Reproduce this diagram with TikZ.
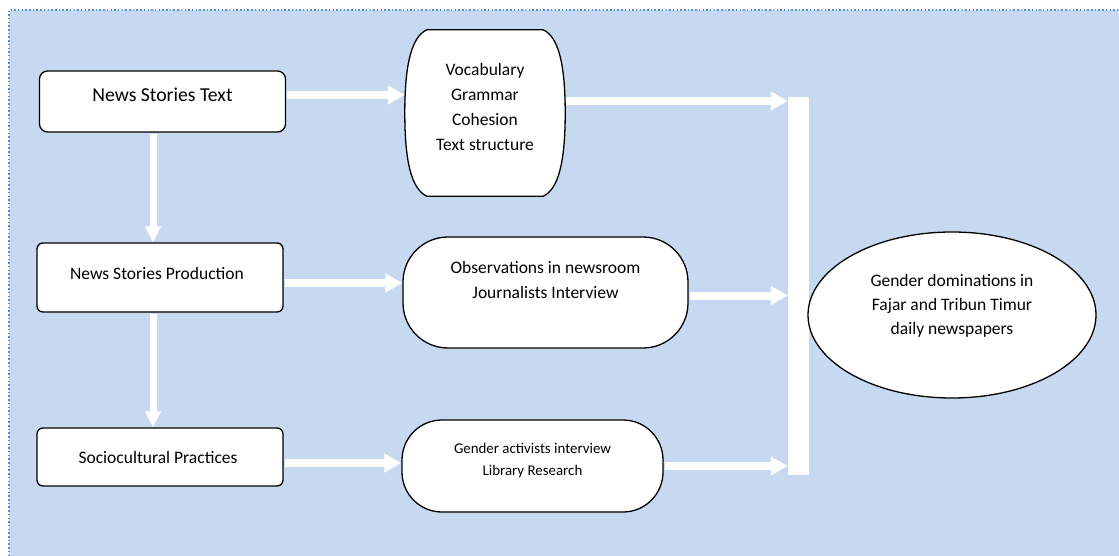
\documentclass[tikz,border=0pt]{standalone}
\usepackage{fontspec}
\setmainfont{Carlito}
\usetikzlibrary{arrows.meta,shapes.geometric}
\definecolor{bgblue}{RGB}{198,217,240}
\definecolor{dotblue}{RGB}{85,142,213}

\begin{document}
\begin{tikzpicture}[x=1pt, y=-1pt]
    \tikzstyle{box}=[draw=black, fill=white, line width=1.3pt, rounded corners=6pt, minimum width=246pt, inner sep=0pt]
    \tikzstyle{blob}=[draw=black, fill=white, line width=1.3pt, inner sep=0pt]
    \tikzstyle{words}=[align=center, inner sep=0pt, text=black, font=\fontsize{17.5}{25}\selectfont]
    \tikzstyle{flow}=[white, line width=8pt, shorten <=1pt, -{Triangle[length=17pt, width=18pt]}]
    \tikzstyle{down}=[white, line width=7pt, shorten <=1pt, -{Triangle[length=16pt, width=15pt]}]

    \useasboundingbox (0,0) rectangle (1119,556);
    \fill[bgblue] (9,10) rectangle (1119,556);
    \draw[dotblue, line width=1.5pt, dash pattern=on 1.5pt off 2.2pt] (9,556) -- (9,10) -- (1119,10);

    % left column
    \node[box, minimum height=61pt, rounded corners=8pt] (text) at (162.5,101.5) {};
    \node[box, minimum height=69pt] (prod) at (160,277.5) {};
    \node[box, minimum height=58pt] (socio) at (160,457) {};

    % middle column
    \node[minimum width=160pt, minimum height=166pt, inner sep=0pt] (ling) at (485,113) {};
    \draw[blob] ([xshift=22pt]ling.north west) -- ([xshift=-22pt]ling.north east)
        .. controls +(15,7) and +(0,-50) .. (ling.east)
        .. controls +(0,50) and +(15,-7) .. ([xshift=-22pt]ling.south east)
        -- ([xshift=22pt]ling.south west)
        .. controls +(-15,-7) and +(0,50) .. (ling.west)
        .. controls +(0,-50) and +(-15,7) .. ([xshift=22pt]ling.north west) -- cycle;
    \node[blob, rounded corners=45pt, minimum width=285pt, minimum height=111pt] (obs) at (545.5,292.5) {};
    \node[blob, rounded corners=40pt, minimum width=261pt, minimum height=92pt] (act) at (532.5,466) {};

    % right side
    \node[fill=white, minimum width=21pt, minimum height=378pt, inner sep=0pt] (bar) at (798.5,286) {};
    \node[blob, ellipse, minimum width=288pt, minimum height=166pt] (gender) at (952,315) {};

    % texts
    \node[words, font=\fontsize{19.7}{24}\selectfont] (t1) at (162.5,94.5) {News Stories Text};
    \node[words] (t2) at (157,273) {News Stories Production};
    \node[words] (t3) at (158,457) {Sociocultural Practices};
    \node[words] (t4) at (485,107) {Vocabulary\\Grammar\\Cohesion\\Text structure};
    \node[words] (t5) at (545.5,279.5) {Observations in newsroom\\Journalists Interview};
    \node[words, font=\fontsize{14.9}{22}\selectfont] (t6) at (532.5,460.5) {Gender activists interview\\Library Research};
    \node[words, font=\fontsize{17.5}{24.3}\selectfont] (t7) at (952,306) {Gender dominations in\\Fajar and Tribun Timur\\daily newspapers};

    % arrows
    \draw[flow] ([yshift=6.5pt]text.east) -- ([yshift=6.5pt]text.east -| ling.west);
    \draw[flow] ([yshift=-5.5pt]prod.east) -- ([yshift=-5.5pt]prod.east -| obs.west);
    \draw[flow] ([yshift=-6pt]socio.east) -- ([yshift=-6pt]socio.east -| act.west);
    \draw[flow] ([yshift=12pt]ling.east) -- ([yshift=12pt]ling.east -| bar.west);
    \draw[flow] ([yshift=-3pt]obs.east) -- ([yshift=-3pt]obs.east -| bar.west);
    \draw[flow] (act.east) -- (act.east -| bar.west);
    \draw[down] ([xshift=-9.5pt]text.south) -- ([xshift=-9.5pt]text.south |- prod.north);
    \draw[down] ([xshift=-7pt]prod.south) -- ([xshift=-7pt]prod.south |- socio.north);
\end{tikzpicture}
\end{document}
